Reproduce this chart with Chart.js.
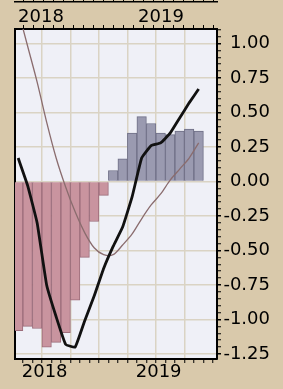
<!DOCTYPE html>
<html>
<head>
<meta charset="utf-8">
<script src="https://cdn.jsdelivr.net/npm/chart.js@4/dist/chart.umd.min.js"></script>
<style>
  html, body { margin: 0; padding: 0; background: #d9c9ab; }
  #c { display: block; }
</style>
</head>
<body>
<canvas id="c" width="283" height="389"></canvas>
<script>
// ---- data ----
const months = ['2017-10','2017-11','2017-12','2018-01','2018-02','2018-03','2018-04','2018-05','2018-06','2018-07',
                '2018-08','2018-09','2018-10','2018-11','2018-12','2019-01','2019-02','2019-03','2019-04','2019-05'];
const histogram = [-1.08,-1.05,-1.065,-1.20,-1.165,-1.095,-0.86,-0.55,-0.29,-0.10,
                   0.08,0.165,0.35,0.47,0.42,0.35,0.34,0.365,0.38,0.365];
const fastLine = [0.17,-0.03,-0.30,-0.75,-0.98,-1.18,-1.20,-1.01,-0.83,-0.63,
                  -0.47,-0.33,-0.11,0.17,0.26,0.28,0.35,0.46,0.57,0.67];
const slowLine = [1.24,0.98,0.72,0.43,0.17,-0.04,-0.22,-0.37,-0.48,-0.53,
                  -0.53,-0.46,-0.38,-0.27,-0.17,-0.09,0.01,0.09,0.17,0.28];
const yearLabels = ['2018','2019'];
const baseYear = 2018;

// month label -> month index (0 = Jan of baseYear)
const monthIndex = months.map(m => {
  const [y, mo] = m.split('-').map(Number);
  return (y - baseYear) * 12 + (mo - 1);
});
const pts = arr => arr.map((v, i) => ({ x: monthIndex[i], y: v }));

const X_MIN = -2.8, X_MAX = 17.4;
const Y_MIN = -1.286, Y_MAX = 1.105;
const GRID = '#dad3c4';
const FONT = { family: 'DejaVu Sans', size: 18 };

const yearLabel = v => {
  if (Math.abs(v % 12) < 1e-9) {
    const lbl = String(baseYear + v / 12);
    return yearLabels.includes(lbl) ? lbl : '';
  }
  return '';
};
const isMajorY = v => Math.abs(v * 4 - Math.round(v * 4)) < 1e-6;

const bgPlugin = {
  id: 'bg',
  beforeDraw(chart) {
    const { ctx, chartArea: a } = chart;
    ctx.save();
    ctx.fillStyle = '#d9c9ab';
    ctx.fillRect(0, 0, chart.width, chart.height);
    ctx.fillStyle = '#eff0f7';
    ctx.fillRect(a.left, a.top, a.right - a.left, a.bottom - a.top);
    ctx.restore();
  }
};

new Chart(document.getElementById('c'), {
  data: {
    datasets: [
      {
        type: 'line', data: pts(fastLine), xAxisID: 'x', yAxisID: 'y',
        borderColor: '#111111', borderWidth: 2.8, pointRadius: 0, tension: 0.1, order: 1
      },
      {
        type: 'line', data: pts(slowLine), xAxisID: 'x', yAxisID: 'y',
        borderColor: '#8a6c6e', borderWidth: 1.3, pointRadius: 0, tension: 0.3, order: 2
      },
      {
        type: 'bar', data: pts(histogram), xAxisID: 'x', yAxisID: 'y',
        backgroundColor: ctx => (ctx.raw && ctx.raw.y < 0) ? '#c9949f' : '#9a9ab0',
        borderColor: ctx => (ctx.raw && ctx.raw.y < 0) ? '#9c6c7a' : '#6e6e86',
        borderWidth: 1, barPercentage: 1, categoryPercentage: 1, order: 3
      }
    ]
  },
  options: {
    responsive: false,
    animation: false,
    devicePixelRatio: 1,
    layout: { padding: { left: 15, right: 13, top: 0, bottom: 0 } },
    plugins: { legend: { display: false }, tooltip: { enabled: false } },
    scales: {
      x: {
        type: 'linear', position: 'bottom', min: X_MIN, max: X_MAX,
        ticks: { stepSize: 1, autoSkip: false, maxRotation: 0, includeBounds: false, padding: -1,
                 labelOffset: -2, color: '#000', font: FONT, callback: v => yearLabel(v) },
        grid: { color: c => (c.tick && Math.abs(c.tick.value % 3) < 1e-9) ? GRID : 'rgba(0,0,0,0)',
                lineWidth: 1.5, tickColor: '#000', tickLength: 4, tickWidth: 1 },
        border: { color: '#000', width: 2 },
        afterFit: s => { s.height = 30; }
      },
      xTop: {
        type: 'linear', position: 'top', weight: 0, min: X_MIN, max: X_MAX,
        ticks: { stepSize: 1, autoSkip: false, maxRotation: 0, includeBounds: false, padding: -3,
                 labelOffset: -2, color: '#000', font: FONT, callback: v => yearLabel(v) },
        grid: { drawOnChartArea: false, tickColor: '#000', tickLength: 4, tickWidth: 1 },
        border: { color: '#000', width: 2 },
        afterFit: s => { s.height = 27; }
      },
      xTop2: {
        type: 'linear', position: 'top', weight: 1, min: X_MIN, max: X_MAX,
        ticks: { display: false, stepSize: 1, autoSkip: false, includeBounds: false },
        grid: { drawOnChartArea: false, tickColor: '#000', tickLength: 4, tickWidth: 1 },
        border: { color: '#000', width: 1.5 },
        afterFit: s => { s.height = 2; }
      },
      y: {
        type: 'linear', position: 'right', min: Y_MIN, max: Y_MAX,
        ticks: { stepSize: 0.05, autoSkip: false, includeBounds: false, padding: 2, crossAlign: 'far',
                 color: '#000', font: FONT,
                 callback: v => isMajorY(v) ? Number(v).toFixed(2) : '' },
        grid: { color: c => (c.tick && isMajorY(c.tick.value)) ? GRID : 'rgba(0,0,0,0)',
                lineWidth: 1.5, tickColor: '#000', tickLength: 4,
                tickWidth: c => (c.tick && isMajorY(c.tick.value)) ? 1.5 : 1 },
        border: { color: '#000', width: 2 },
        afterFit: s => { s.width = 53; }
      },
      yLeft: {
        type: 'linear', position: 'left', min: Y_MIN, max: Y_MAX,
        ticks: { display: false },
        grid: { drawOnChartArea: false, drawTicks: false },
        border: { color: '#000', width: 2 },
        afterFit: s => { s.width = 0; }
      }
    }
  },
  plugins: [bgPlugin]
});
</script>
</body>
</html>
